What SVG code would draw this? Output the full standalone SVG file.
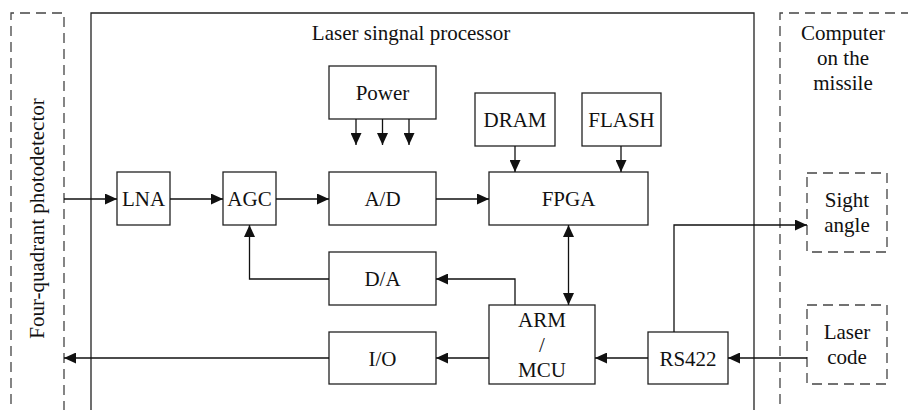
<svg xmlns="http://www.w3.org/2000/svg" width="908" height="410" viewBox="0 0 908 410">
<style>
.box{fill:#fff;stroke:#222;stroke-width:1.3}
.dash{fill:none;stroke:#444;stroke-width:1.3;stroke-dasharray:10,6}
.ln{fill:none;stroke:#111;stroke-width:1.3}
text{font-family:"Liberation Serif","Times New Roman",serif;font-size:21px;fill:#111;text-anchor:middle}
</style>
<defs>
<marker id="ah" viewBox="0 0 12 11" refX="12" refY="5.5" markerWidth="12" markerHeight="11" markerUnits="userSpaceOnUse" orient="auto-start-reverse">
<path d="M0,0 L12,5.5 L0,11 z" fill="#111"/>
</marker>
</defs>
<g id="photodetector">
<path class="dash" d="M11,420 V13 H64 V420"/>
<text transform="translate(43.5,218.5) rotate(-90)">Four-quadrant photodetector</text>
</g>
<g id="processor">
<path class="box" d="M91,420 V13 H754 V420" style="fill:none"/>
<text x="411" y="40">Laser singnal processor</text>
</g>
<g id="computer">
<path class="dash" d="M780,420 V13 H910"/>
<text x="843" y="40">Computer</text>
<text x="843" y="65">on the</text>
<text x="843" y="90">missile</text>
</g>
<g id="lna"><rect class="box" x="117" y="172" width="53" height="53"/><text x="143.5" y="206">LNA</text></g>
<g id="agc"><rect class="box" x="223" y="172" width="53" height="53"/><text x="249.5" y="206">AGC</text></g>
<g id="ad"><rect class="box" x="329" y="172" width="107" height="53"/><text x="382.5" y="206">A/D</text></g>
<g id="power"><rect class="box" x="329" y="66" width="107" height="53"/><text x="382.5" y="100">Power</text></g>
<g id="dram"><rect class="box" x="475" y="93" width="80" height="53"/><text x="515" y="127">DRAM</text></g>
<g id="flash"><rect class="box" x="582" y="93" width="79" height="53"/><text x="621.5" y="127">FLASH</text></g>
<g id="fpga"><rect class="box" x="489" y="172" width="159" height="53"/><text x="568.5" y="206">FPGA</text></g>
<g id="da"><rect class="box" x="329" y="252" width="107" height="53"/><text x="382.5" y="286">D/A</text></g>
<g id="io"><rect class="box" x="329" y="332" width="107" height="52"/><text x="382.5" y="365.5">I/O</text></g>
<g id="arm"><rect class="box" x="489" y="305" width="106" height="79"/><text x="542" y="327">ARM</text><text x="542" y="352">/</text><text x="542" y="377">MCU</text></g>
<g id="rs422"><rect class="box" x="648" y="332" width="80" height="52"/><text x="688" y="365.5">RS422</text></g>
<g id="sight"><rect class="dash" x="807" y="173" width="80" height="79"/><text x="847" y="207">Sight</text><text x="847" y="232">angle</text></g>
<g id="lasercode"><rect class="dash" x="807" y="305" width="80" height="79"/><text x="847" y="339">Laser</text><text x="847" y="364">code</text></g>
<g id="connectors">
<path class="ln" marker-end="url(#ah)" d="M64,199 H117"/>
<path class="ln" marker-end="url(#ah)" d="M170,199 H223"/>
<path class="ln" marker-end="url(#ah)" d="M276,199 H329"/>
<path class="ln" marker-end="url(#ah)" d="M436,199 H489"/>
<path class="ln" marker-end="url(#ah)" d="M356,119 V145"/>
<path class="ln" marker-end="url(#ah)" d="M382.5,119 V145"/>
<path class="ln" marker-end="url(#ah)" d="M409,119 V145"/>
<path class="ln" marker-end="url(#ah)" d="M515,146 V172"/>
<path class="ln" marker-end="url(#ah)" d="M621,146 V172"/>
<path class="ln" marker-start="url(#ah)" marker-end="url(#ah)" d="M568.5,225 V305"/>
<path class="ln" marker-end="url(#ah)" d="M515,305 V279 H436"/>
<path class="ln" marker-end="url(#ah)" d="M329,279 H249.5 V225"/>
<path class="ln" marker-end="url(#ah)" d="M489,358 H436"/>
<path class="ln" marker-end="url(#ah)" d="M329,358 H64"/>
<path class="ln" marker-end="url(#ah)" d="M648,358 H595"/>
<path class="ln" marker-end="url(#ah)" d="M807,358 H728"/>
<path class="ln" marker-end="url(#ah)" d="M674,332 V225 H807"/>
</g>
</svg>
